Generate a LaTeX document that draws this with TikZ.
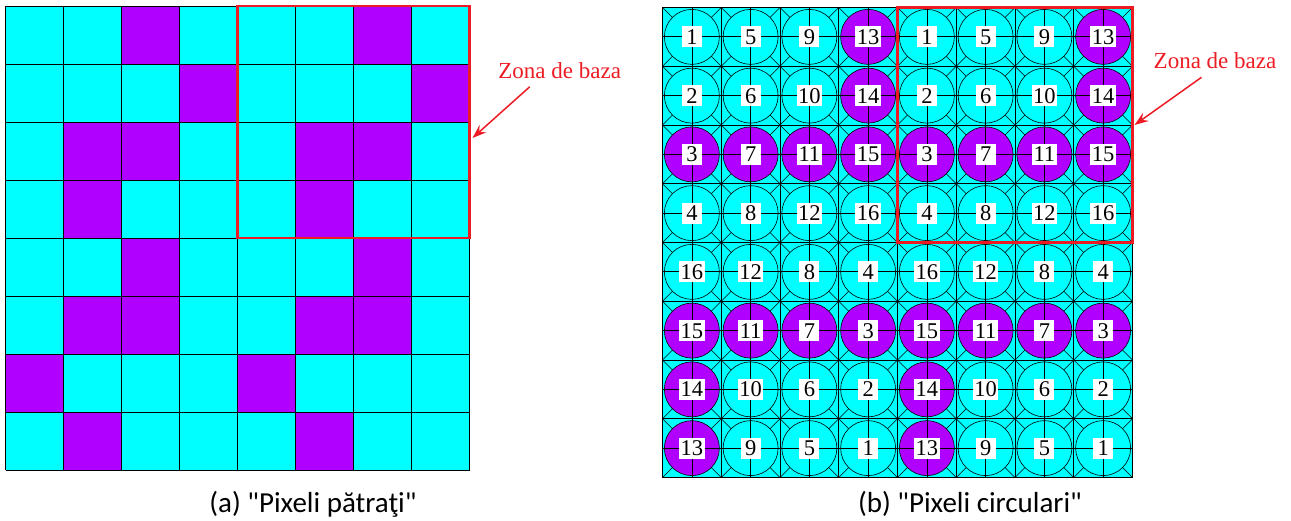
\documentclass[tikz,border=0pt]{standalone}
\usepackage{fontspec}
\setmainfont{Liberation Serif}
\newfontfamily\numfont{Liberation Serif}
\newfontfamily\capfont{Carlito}
\usetikzlibrary{arrows.meta,calc}
\definecolor{pixcyan}{RGB}{0,255,255}
\definecolor{pixpurple}{RGB}{176,0,255}
\definecolor{zonered}{RGB}{237,28,36}
\begin{document}
\begin{tikzpicture}[x=1pt,y=-1pt,
  gridline/.style={line width=0.75pt, draw=black},
  ringline/.style={line width=0.6pt, draw=black},
  zone/.style={draw=zonered, line width=2.2pt, inner sep=0pt, outer sep=0pt, anchor=north west},
  zonelabel/.style={text=zonered, font=\numfont\fontsize{23}{23}\selectfont, inner sep=0pt, anchor=base},
  pointer/.style={draw=zonered, line width=1.5pt, -{Stealth[length=14pt,width=10pt,inset=5pt]}},
  numlabel/.style={fill=white, inner xsep=1.5pt, inner ysep=3pt, minimum width=20pt, text height=15pt, text depth=0pt, font=\numfont\fontsize{22.5}{22.5}\selectfont},
  caption/.style={font=\capfont\fontsize{29}{29}\selectfont, anchor=base, inner sep=0pt}
]
\useasboundingbox (0,0) rectangle (1291,521);

% ---------- (a) square pixels ----------
\begin{scope}[shift={(5.5,6)}]
  \def\sa{58}
  \foreach \rowbits [count=\ri from 0] in {
      {0,0,1,0,0,0,1,0},{0,0,0,1,0,0,0,1},{0,1,1,0,0,1,1,0},{0,1,0,0,0,1,0,0},
      {0,0,1,0,0,0,1,0},{0,1,1,0,0,1,1,0},{1,0,0,0,1,0,0,0},{0,1,0,0,0,1,0,0}} {
    \foreach \b [count=\ci from 0] in \rowbits {
      \ifnum\b=1 \def\fc{pixpurple}\else\def\fc{pixcyan}\fi
      \fill[\fc] (\ci*\sa,\ri*\sa) rectangle ++(\sa,\sa);
    }
  }
  \foreach \k in {0,...,8} {
    \draw[gridline] (\k*\sa,0) -- (\k*\sa,8*\sa);
    \draw[gridline] (0,\k*\sa) -- (8*\sa,\k*\sa);
  }
\end{scope}
\node[zone, minimum width=232pt, minimum height=232pt] (zoneA) at (237.5,6) {};
\node[zonelabel] (labA) at (559.7,78.3) {Zona de baza};
\draw[pointer] ($(labA.base)+(-30,8.5)$) -- ($(zoneA.east)+(3,16)$);

% ---------- (b) circular pixels ----------
\begin{scope}[shift={(662.5,7.5)}]
  \def\sb{58.75}
  \fill[pixcyan] (0,0) rectangle (8*\sb,8*\sb);
  % cell diagonals
  \foreach \i in {0,...,7} \foreach \j in {0,...,7} {
    \draw[ringline] (\i*\sb,\j*\sb) -- ++(\sb,\sb) (\i*\sb+\sb,\j*\sb) -- ++(-\sb,\sb);
  }
  % circular pixels
  \foreach \rowlist [count=\ri from 0] in {
      {1,5,9,13},{2,6,10,14},{3,7,11,15},{4,8,12,16},
      {16,12,8,4},{15,11,7,3},{14,10,6,2},{13,9,5,1}} {
    \foreach \half in {0,1} {
      \foreach \n [count=\ci from 0] in \rowlist {
        \pgfmathtruncatemacro\cc{4*\half+\ci}
        \pgfmathtruncatemacro\isp{or(or(mod(\n,4)==3,\n==13),\n==14)}
        \ifnum\isp=1 \def\fc{pixpurple}\else\def\fc{pixcyan}\fi
        \filldraw[ringline, fill=\fc] ({(\cc+0.5)*\sb},{(\ri+0.5)*\sb}) circle[radius=27.5];
      }
    }
  }
  % cell borders and centre lines
  \foreach \k in {0,...,16} {
    \draw[gridline] (\k*\sb/2,0) -- (\k*\sb/2,8*\sb);
    \draw[gridline] (0,\k*\sb/2) -- (8*\sb,\k*\sb/2);
  }
  % pixel numbers
  \foreach \rowlist [count=\ri from 0] in {
      {1,5,9,13},{2,6,10,14},{3,7,11,15},{4,8,12,16},
      {16,12,8,4},{15,11,7,3},{14,10,6,2},{13,9,5,1}} {
    \foreach \half in {0,1} {
      \foreach \n [count=\ci from 0] in \rowlist {
        \pgfmathtruncatemacro\cc{4*\half+\ci}
        \node[numlabel] (px-\ri-\cc) at ({(\cc+0.5)*\sb},{(\ri+0.5)*\sb}) {\n};
      }
    }
  }
\end{scope}
\node[zone, minimum width=235pt, minimum height=235pt] (zoneB) at (897.5,7.5) {};
\node[zonelabel] (labB) at (1215,68.3) {Zona de baza};
\draw[pointer] ($(labB.base)+(-13.5,9)$) -- ($(zoneB.east)+(2,0)$);

% ---------- captions ----------
\node[caption] (capA) at (313,512.5) {(a) "Pixeli pătraţi"};
\node[caption] (capB) at (970,512.5) {(b) "Pixeli circulari"};
\end{tikzpicture}
\end{document}
